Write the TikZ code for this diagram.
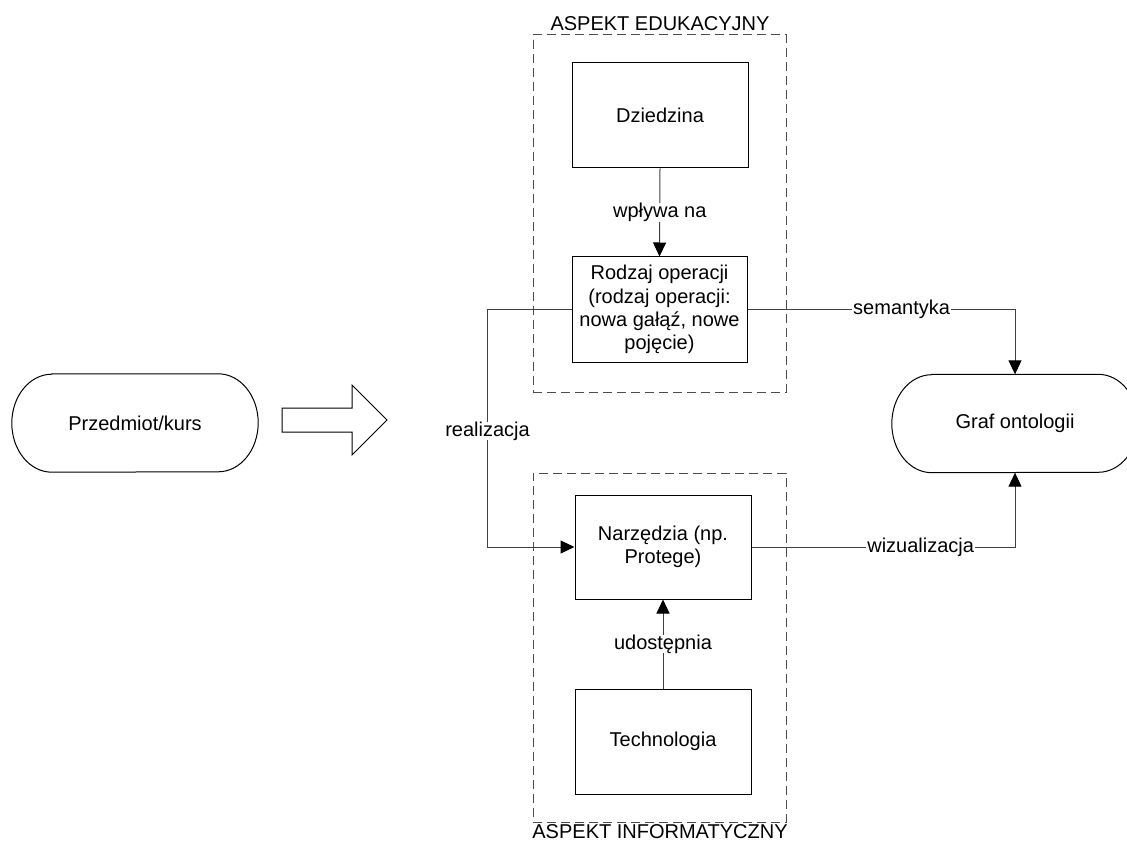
\documentclass[tikz,border=0pt]{standalone}
\usepackage{fontspec}
\setmainfont{Liberation Sans}
\usetikzlibrary{arrows.meta}

\tikzset{
  txt/.style={font=\fontsize{20}{23.3}\selectfont, align=center},
  box/.style={txt, draw=black, line width=1pt, inner sep=2pt},
  frame/.style={draw=black!70, line width=1pt, dash pattern=on 9pt off 5pt},
  term/.style={txt, minimum width=246pt, minimum height=98pt, inner sep=0pt},
  conn/.style={draw=black!75, line width=1pt, -{Triangle[length=14pt,width=13pt,black]}},
  lbl/.style={txt, fill=white, inner xsep=1pt, inner ysep=0pt},
}

\begin{document}
\begin{tikzpicture}[x=1pt, y=-1pt]
  \useasboundingbox (0,0) rectangle (1127,842);
  \fill[white] (0,0) rectangle (1127,842);

  % dashed aspect frames with their titles
  \node[frame, minimum width=253pt, minimum height=357pt] (edu) at (659.5,213.5) {};
  \node[txt] (edutitle) at (660,24) {ASPEKT EDUKACYJNY};
  \node[frame, minimum width=253pt, minimum height=349pt] (inf) at (659.5,647.5) {};
  \node[txt] (inftitle) at (660,832) {ASPEKT INFORMATYCZNY};

  % process boxes
  \node[box, minimum width=176pt, minimum height=105pt] (dz) at (660,115.5) {Dziedzina};
  \node[box, minimum width=175pt, minimum height=105pt] (rod) at (659.5,309.5)
    {Rodzaj operacji\\(rodzaj operacji:\\nowa gałąź, nowe\\pojęcie)};
  \node[box, minimum width=176pt, minimum height=104pt] (nar) at (663,547)
    {Narzędzia (np.\\Protege)};
  \node[box, minimum width=176pt, minimum height=105pt] (tech) at (663,741.5) {Technologia};

  % terminators
  \node[term] (przed) at (135,423) {Przedmiot/kurs};
  \node[term] (graf) at (1015,423.5) {Graf ontologii};
  \foreach \n in {przed,graf}
    \draw[line width=1pt]
      ([xshift=40pt]\n.north west) -- ([xshift=-40pt]\n.north east)
      arc[start angle=90, end angle=-90, x radius=40pt, y radius=49pt]
      -- ([xshift=40pt]\n.south west)
      arc[start angle=270, end angle=90, x radius=40pt, y radius=49pt]
      -- cycle;

  % block arrow
  \draw[line width=1pt] (282,408) -- (352,408) -- (352,385) -- (387,420)
    -- (352,455) -- (352,432) -- (282,432) -- cycle;

  % connectors
  \draw[conn] (dz.south) -- node[lbl, midway] {wpływa na} (rod.north);
  \draw[conn] (tech.north) -- node[lbl, midway] {udostępnia} (nar.south);
  \draw[conn] (rod.west) -- ++(-84,0) coordinate (rc)
    |- node[lbl, pos=0.256] {realizacja} (nar.west);
  \draw[conn] (rod.east) -| node[lbl, pos=0.288] {semantyka} (graf.north);
  \draw[conn] (nar.east) -| node[lbl, pos=0.321] {wizualizacja} (graf.south);
\end{tikzpicture}
\end{document}
